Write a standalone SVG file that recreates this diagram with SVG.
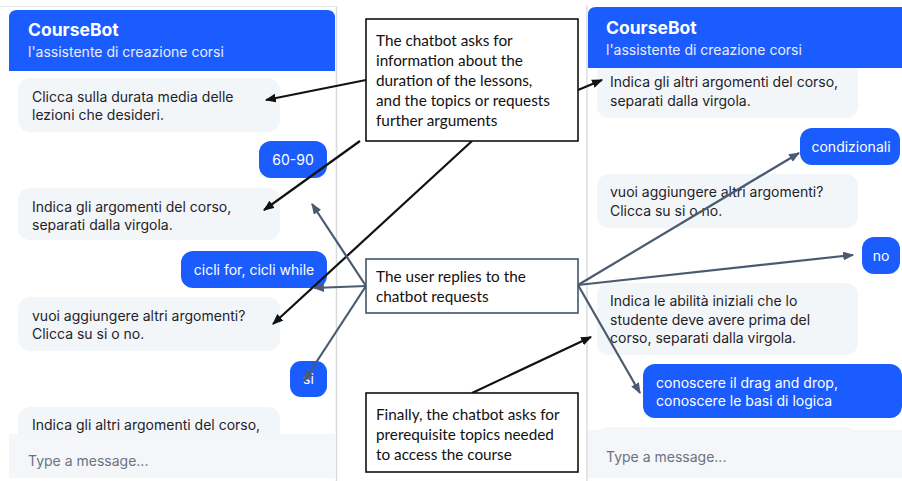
<svg xmlns="http://www.w3.org/2000/svg" width="902" height="481" viewBox="0 0 902 481">
<style>
.chat{font-family:Inter,"Noto Sans","Liberation Sans",sans-serif;font-size:14px;fill:#1f2328}
.me{font-family:Inter,"Noto Sans","Liberation Sans",sans-serif;font-size:14px;fill:#ffffff}
.title{font-family:Inter,"Liberation Sans",sans-serif;font-size:17.5px;font-weight:700;fill:#ffffff}
.sub{font-family:Inter,"Liberation Sans",sans-serif;font-size:14px;fill:#e8eeff}
.ph{font-family:Inter,"Liberation Sans",sans-serif;font-size:14px;fill:#6b7280}
.bot{fill:#f3f6f9}
.user{fill:#1b5cfe}
.hdr{fill:#1b5cfe}
.note{font-family:Lato,"Liberation Sans",sans-serif;font-size:15.3px;fill:#111111}
.boxk{fill:#ffffff;stroke:#111111;stroke-width:1.6}
.boxs{fill:#ffffff;stroke:#44546a;stroke-width:1.6}
.ck{stroke:#111111;stroke-width:2.2;fill:none}
.cs{stroke:#4a5a70;stroke-width:2.2;fill:none}
</style>
<defs>
<marker id="ak" viewBox="0 0 10 8" refX="9" refY="4" markerWidth="11" markerHeight="9" markerUnits="userSpaceOnUse" orient="auto"><path d="M0,0 L10,4 L0,8 Z" fill="#111111"/></marker>
<marker id="as" viewBox="0 0 10 8" refX="9" refY="4" markerWidth="11" markerHeight="9" markerUnits="userSpaceOnUse" orient="auto"><path d="M0,0 L10,4 L0,8 Z" fill="#4a5a70"/></marker>
</defs>
<rect width="902" height="481" fill="#ffffff"/>

<g id="left-panel">
<line x1="0" y1="6.5" x2="337" y2="6.5" stroke="#e4e6ea" stroke-width="1"/>
<line x1="336.5" y1="7" x2="336.5" y2="481" stroke="#d8dadd" stroke-width="1.5"/>
<g id="l-msg1"><rect class="bot" x="18" y="78" width="262" height="54" rx="12"/><text class="chat" x="32" y="102">Clicca sulla durata media delle</text><text class="chat" x="32" y="120">lezioni che desideri.</text></g>
<g id="l-msg2"><rect class="user" x="259" y="141" width="68" height="37" rx="12"/><text class="me" x="293" y="165" text-anchor="middle">60-90</text></g>
<g id="l-msg3"><rect class="bot" x="18" y="188" width="262" height="52" rx="12"/><text class="chat" x="32" y="212">Indica gli argomenti del corso,</text><text class="chat" x="32" y="230">separati dalla virgola.</text></g>
<g id="l-msg4"><rect class="user" x="181" y="251" width="146" height="37" rx="12"/><text class="me" x="254" y="275" text-anchor="middle">cicli for, cicli while</text></g>
<g id="l-msg5"><rect class="bot" x="18" y="297" width="262" height="54" rx="12"/><text class="chat" x="32" y="321">vuoi aggiungere altri argomenti?</text><text class="chat" x="32" y="339">Clicca su si o no.</text></g>
<g id="l-msg6"><rect class="user" x="290" y="361" width="37" height="36" rx="11"/><text class="me" x="308.5" y="384" text-anchor="middle">si</text></g>
<g id="l-msg7"><rect class="bot" x="18" y="407" width="262" height="50" rx="12"/><text class="chat" x="32" y="430">Indica gli altri argomenti del corso,</text></g>
<g id="l-input"><path d="M9,434 H335 V478 H9 Z" fill="#f4f6f9"/><text class="ph" x="28" y="466">Type a message...</text></g>
<g id="l-header"><path d="M9,71 V18 Q9,10 17,10 H327 Q335,10 335,18 V71 Z" class="hdr"/><text class="title" x="28" y="36">CourseBot</text><text class="sub" x="28" y="57">l'assistente di creazione corsi</text></g>
</g>

<g id="right-panel">
<line x1="587" y1="5" x2="587" y2="481" stroke="#dcdee2" stroke-width="1.5"/>
<g id="r-msg1"><rect class="bot" x="597" y="60" width="261" height="58" rx="12"/><text class="chat" x="610" y="87">Indica gli altri argomenti del corso,</text><text class="chat" x="610" y="106">separati dalla virgola.</text></g>
<g id="r-msg2"><rect class="user" x="800" y="128" width="100" height="37" rx="12"/><text class="me" x="851" y="152" text-anchor="middle">condizionali</text></g>
<g id="r-msg3"><rect class="bot" x="597" y="174" width="261" height="54" rx="12"/><text class="chat" x="610" y="197">vuoi aggiungere altri argomenti?</text><text class="chat" x="610" y="216">Clicca su si o no.</text></g>
<g id="r-msg4"><rect class="user" x="862" y="237" width="38" height="37" rx="12"/><text class="me" x="881" y="261" text-anchor="middle">no</text></g>
<g id="r-msg5"><rect class="bot" x="597" y="283" width="261" height="72" rx="12"/><text class="chat" x="610" y="306">Indica le abilità iniziali che lo</text><text class="chat" x="610" y="325">studente deve avere prima del</text><text class="chat" x="610" y="343">corso, separati dalla virgola.</text></g>
<g id="r-msg6"><rect class="user" x="643" y="364" width="259" height="54" rx="12"/><text class="me" x="656" y="388">conoscere il drag and drop,</text><text class="me" x="656" y="406">conoscere le basi di logica</text></g>
<g id="r-msg7"><rect class="bot" x="597" y="427" width="261" height="30" rx="12"/></g>
<g id="r-input"><path d="M588,430 H902 V478 H588 Z" fill="#f4f6f9"/><text class="ph" x="606" y="462">Type a message...</text></g>
<g id="r-header"><path d="M588,68 V15 Q588,7 596,7 H902 V68 Z" class="hdr"/><text class="title" x="606" y="34">CourseBot</text><text class="sub" x="606" y="55">l'assistente di creazione corsi</text></g>
</g>

<g id="connectors">
<line class="ck" x1="366" y1="80" x2="266" y2="100" marker-end="url(#ak)"/>
<line class="ck" x1="360" y1="141" x2="264" y2="210" marker-end="url(#ak)"/>
<line class="ck" x1="472" y1="141" x2="273" y2="324" marker-end="url(#ak)"/>
<line class="ck" x1="578" y1="90" x2="602" y2="80" marker-end="url(#ak)"/>
<line class="ck" x1="472" y1="393" x2="591" y2="337" marker-end="url(#ak)"/>
<line class="cs" x1="366" y1="286" x2="312" y2="204" marker-end="url(#as)"/>
<line class="cs" x1="366" y1="286" x2="314" y2="288" marker-end="url(#as)"/>
<line class="cs" x1="366" y1="286" x2="304" y2="381" marker-end="url(#as)"/>
<line class="cs" x1="578" y1="285" x2="799" y2="153" marker-end="url(#as)"/>
<line class="cs" x1="578" y1="285" x2="853" y2="255" marker-end="url(#as)"/>
<line class="cs" x1="578" y1="285" x2="640" y2="393" marker-end="url(#as)"/>
</g>

<g id="note-bot"><rect class="boxk" x="366" y="19" width="212" height="122"/><text class="note" x="376" y="46">The chatbot asks for</text><text class="note" x="376" y="66">information about the</text><text class="note" x="376" y="86">duration of the lessons,</text><text class="note" x="376" y="106">and the topics or requests</text><text class="note" x="376" y="126">further arguments</text></g>
<g id="note-user"><rect class="boxs" x="366" y="259" width="212" height="54"/><text class="note" x="376" y="282">The user replies to the</text><text class="note" x="376" y="302">chatbot requests</text></g>
<g id="note-final"><rect class="boxk" x="366" y="393" width="212" height="79"/><text class="note" x="376" y="420">Finally, the chatbot asks for</text><text class="note" x="376" y="440">prerequisite topics needed</text><text class="note" x="376" y="460">to access the course</text></g>
</svg>
